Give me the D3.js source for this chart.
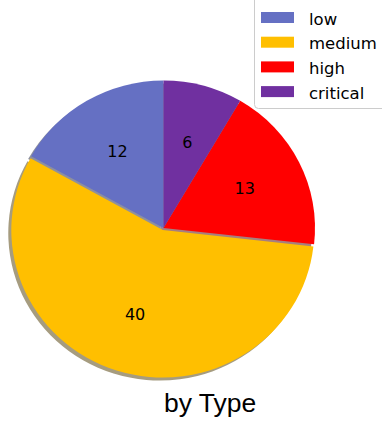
<!DOCTYPE html>
<html>
<head>
<meta charset="utf-8">
<script src="https://cdn.jsdelivr.net/npm/d3@7"></script>
<style>
  html, body { margin: 0; padding: 0; background: #fff; }
  svg { display: block; }
</style>
</head>
<body>
<svg id="chart"></svg>
<script>
// data
const categories = ["low", "medium", "high", "critical"];
const values = [12, 40, 13, 6];
const colors = ["#6570C3", "#FFBF00", "#FF0000", "#7030A0"];
const explode = [0, 0.015, 0, 0];
const title = "by Type";

const width = 382, height = 423;
const cx = 163.5, cy = 228;
// axes aspect isn't equal, so the pie is a slightly squashed ellipse
const rx = 151.5, ry = 147.5;

const svg = d3.select("#chart").attr("width", width).attr("height", height);

const rows = categories.map((c, i) => ({ name: c, value: values[i], color: colors[i], explode: explode[i] }));

// matplotlib style: start at 12 o'clock, go counter-clockwise
const pie = d3.pie().sort(null).value(d => d.value).startAngle(0).endAngle(-2 * Math.PI);
const arcs = pie(rows);

const R = 100;
const arc = d3.arc().innerRadius(0).outerRadius(R);

function offset(d) {
  const mid = (d.startAngle + d.endAngle) / 2;
  return [Math.sin(mid) * d.data.explode * rx, -Math.cos(mid) * d.data.explode * ry];
}

const g = svg.append("g");

// shadows first (0.3 * colour, alpha 0.5, shifted left/down by 0.02 radius)
g.selectAll("path.shadow")
  .data(arcs)
  .enter().append("path")
    .attr("class", "shadow")
    .attr("d", arc)
    .attr("fill", d => {
      const c = d3.rgb(d.data.color);
      return d3.rgb(c.r * 0.3, c.g * 0.3, c.b * 0.3);
    })
    .attr("fill-opacity", 0.5)
    .attr("transform", d => {
      const [ox, oy] = offset(d);
      return `translate(${cx + ox - 0.02 * rx},${cy + oy + 0.02 * ry}) scale(${rx / R},${ry / R})`;
    });

g.selectAll("path.wedge")
  .data(arcs)
  .enter().append("path")
    .attr("class", "wedge")
    .attr("d", arc)
    .attr("fill", d => d.data.color)
    .attr("transform", d => {
      const [ox, oy] = offset(d);
      return `translate(${cx + ox},${cy + oy}) scale(${rx / R},${ry / R})`;
    });

// value labels at 0.6 of the radius
g.selectAll("text.val")
  .data(arcs)
  .enter().append("text")
    .attr("class", "val")
    .attr("x", d => {
      const mid = (d.startAngle + d.endAngle) / 2;
      return cx + Math.sin(mid) * (0.6 + d.data.explode) * rx;
    })
    .attr("y", d => {
      const mid = (d.startAngle + d.endAngle) / 2;
      return cy - Math.cos(mid) * (0.6 + d.data.explode) * ry;
    })
    .attr("text-anchor", "middle")
    .attr("dominant-baseline", "central")
    .attr("font-family", "DejaVu Sans, sans-serif")
    .attr("font-size", 16)
    .attr("fill", "#000")
    .text(d => d.data.value);

// legend
const legend = svg.append("g").attr("transform", "translate(254,0)");
legend.append("rect")
  .attr("x", 0.5).attr("y", -4.5)
  .attr("width", 140).attr("height", 113)
  .attr("rx", 4)
  .attr("fill", "#fff").attr("fill-opacity", 0.8)
  .attr("stroke", "#cccccc").attr("stroke-width", 1);

const item = legend.selectAll("g.item")
  .data(rows)
  .enter().append("g")
    .attr("class", "item")
    .attr("transform", (d, i) => `translate(0,${17.5 + i * 24.7})`);
item.append("rect")
  .attr("x", 7).attr("y", -5.5)
  .attr("width", 33).attr("height", 11)
  .attr("fill", d => d.color);
item.append("text")
  .attr("x", 55).attr("y", 7)
  .attr("font-family", "DejaVu Sans, sans-serif")
  .attr("font-size", 16.5)
  .attr("fill", "#000")
  .text(d => d.name);

// title under the pie
svg.append("text")
  .attr("x", 164).attr("y", 412)
  .attr("font-family", "Liberation Sans, Arial, sans-serif")
  .attr("font-size", 26.5)
  .attr("fill", "#000")
  .text(title);
</script>
</body>
</html>
